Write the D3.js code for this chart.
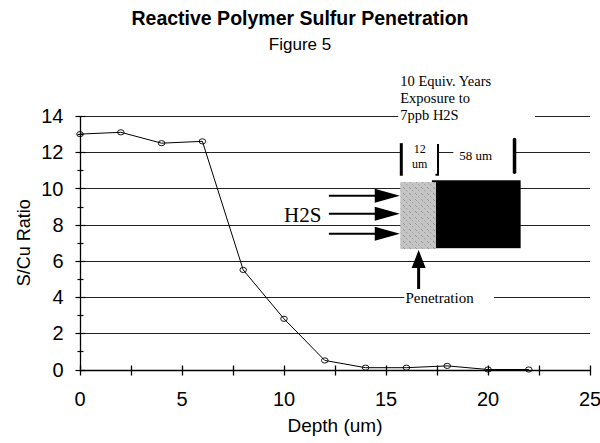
<!DOCTYPE html>
<html>
<head>
<meta charset="utf-8">
<script src="https://cdn.jsdelivr.net/npm/d3@7"></script>
<style>
  body { margin: 0; background: #fff; }
  svg { display: block; }
</style>
</head>
<body>
<div class="vis-holder"></div>
<script>
// data
var depth = [0, 2, 4, 6, 8, 10, 12, 14, 16, 18, 20, 22];
var ratio = [13, 13.1, 12.5, 12.6, 5.5, 2.8, 0.5, 0.1, 0.1, 0.2, 0, 0];
var xTickValues = [0, 5, 10, 15, 20, 25];
var yTickValues = [0, 2, 4, 6, 8, 10, 12, 14];
var arrowLevels = [9.6, 8.6, 7.5];

var mydata = depth.map(function(d, i) { return { depth: d, ratio: ratio[i] }; });

// svg width / height
var width = 600;
var height = 443;
var margin = { top: 116, bottom: 73.5, left: 80, right: 10 };

var sans = "'Liberation Sans', Arial, sans-serif";
var serif = "'Liberation Serif', 'Times New Roman', serif";

var svg = d3.select(".vis-holder")
            .append("svg")
            .attr("width", width)
            .attr("height", height);

var xScale = d3.scaleLinear()
               .domain([0, 25])
               .range([margin.left, width - margin.right]);

var yScale = d3.scaleLinear()
               .domain([0, 14])
               .range([height - margin.bottom, margin.top]);

// hatch pattern for the penetrated layer
var defs = svg.append("defs");
var pat = defs.append("pattern")
              .attr("id", "hatch")
              .attr("patternUnits", "userSpaceOnUse")
              .attr("width", 6)
              .attr("height", 6);
pat.append("rect").attr("width", 6).attr("height", 6).attr("fill", "#c4c4c4");
pat.append("path").attr("d", "M1,1 L3,3").attr("stroke", "#8a8a8a").attr("stroke-width", 0.8);
pat.append("path").attr("d", "M4,4 L5.5,5.5").attr("stroke", "#9a9a9a").attr("stroke-width", 0.8);

// horizontal gridlines
svg.append("g")
   .selectAll("line")
   .data(yTickValues.slice(1))
   .enter()
   .append("line")
   .attr("x1", xScale(0))
   .attr("x2", xScale(25))
   .attr("y1", function(d) { return Math.round(yScale(d)) + 0.5; })
   .attr("y2", function(d) { return Math.round(yScale(d)) + 0.5; })
   .attr("stroke", "#222")
   .attr("stroke-width", 1);

// data line
var line = d3.line()
             .x(function(d) { return xScale(d.depth); })
             .y(function(d) { return yScale(d.ratio); });

svg.append("path")
   .attr("d", line(mydata))
   .attr("fill", "none")
   .attr("stroke", "#000")
   .attr("stroke-width", 1);

svg.append("g")
   .selectAll("ellipse")
   .data(mydata)
   .enter()
   .append("ellipse")
   .attr("cx", function(d) { return xScale(d.depth); })
   .attr("cy", function(d) { return yScale(d.ratio); })
   .attr("rx", 3.3)
   .attr("ry", 2.6)
   .attr("fill", "none")
   .attr("stroke", "#000")
   .attr("stroke-width", 0.9);

// ---- annotation drawing (placed in data units) ----
var ann = svg.append("g");

// white boxes that break the gridlines behind labels
function whiteBox(x0, x1, y0, y1) {
  ann.append("rect")
     .attr("x", xScale(x0)).attr("y", yScale(y1))
     .attr("width", xScale(x1) - xScale(x0))
     .attr("height", yScale(y0) - yScale(y1))
     .attr("fill", "#fff");
}
whiteBox(15.6, 22.3, 13.2, 16.3);   // exposure text
whiteBox(15.75, 17.55, 10.8, 12.6); // 12 um
whiteBox(18.3, 21.3, 10.8, 12.6);   // 58 um
whiteBox(15.9, 20.3, 3.5, 4.5);     // penetration

// top text
var topText = ["10 Equiv. Years", "Exposure to", "7ppb H2S"];
ann.selectAll("text.top")
   .data(topText)
   .enter()
   .append("text")
   .attr("class", "top")
   .attr("x", xScale(15.7))
   .attr("y", function(d, i) { return yScale(15.65) + i * 17; })
   .attr("font-family", serif)
   .attr("font-size", 14.5)
   .text(function(d) { return d; });

// 12 um / 58 um markers
ann.append("line")
   .attr("x1", xScale(15.75)).attr("x2", xScale(15.75))
   .attr("y1", yScale(12.5)).attr("y2", yScale(10.7))
   .attr("stroke", "#000").attr("stroke-width", 3);
ann.append("path")
   .attr("d", "M" + xScale(17.55) + "," + yScale(12.45) + " L" + xScale(17.55) + "," + yScale(10.75) +
              " L" + (xScale(17.55) - 2.5) + "," + yScale(10.75))
   .attr("fill", "none").attr("stroke", "#000").attr("stroke-width", 2);
ann.append("line")
   .attr("x1", xScale(21.3)).attr("x2", xScale(21.3))
   .attr("y1", yScale(12.7)).attr("y2", yScale(10.9))
   .attr("stroke", "#000").attr("stroke-width", 3.5).attr("stroke-linecap", "round");

ann.append("text")
   .attr("x", xScale(16.65)).attr("y", yScale(11.95))
   .attr("text-anchor", "middle")
   .attr("font-family", serif).attr("font-size", 12)
   .text("12");
ann.append("text")
   .attr("x", xScale(16.65)).attr("y", yScale(11.15))
   .attr("text-anchor", "middle")
   .attr("font-family", serif).attr("font-size", 12)
   .text("um");
ann.append("text")
   .attr("x", xScale(19.4)).attr("y", yScale(11.55))
   .attr("text-anchor", "middle")
   .attr("font-family", serif).attr("font-size", 13)
   .text("58 um");

// film layers
ann.append("rect")
   .attr("x", xScale(17.25)).attr("y", yScale(10.45))
   .attr("width", xScale(21.6) - xScale(17.25))
   .attr("height", yScale(6.7) - yScale(10.45))
   .attr("fill", "#000");
ann.append("rect")
   .attr("x", xScale(15.7)).attr("y", yScale(10.35))
   .attr("width", xScale(17.45) - xScale(15.7))
   .attr("height", yScale(6.65) - yScale(10.35))
   .attr("fill", "url(#hatch)");

// H2S arrows
var arrows = ann.append("g");
arrowLevels.forEach(function(v) {
  var yy = yScale(v);
  arrows.append("line")
        .attr("x1", xScale(12.2)).attr("x2", xScale(14.6))
        .attr("y1", yy).attr("y2", yy)
        .attr("stroke", "#000").attr("stroke-width", 2);
  arrows.append("path")
        .attr("d", "M" + xScale(14.45) + "," + (yy - 7) + " L" + xScale(15.68) + "," + yy +
                   " L" + xScale(14.45) + "," + (yy + 7) + " Z")
        .attr("fill", "#000");
});
ann.append("text")
   .attr("x", xScale(10.0)).attr("y", yScale(8.15))
   .attr("font-family", serif).attr("font-size", 21)
   .text("H2S");

// penetration arrow
ann.append("line")
   .attr("x1", xScale(16.6)).attr("x2", xScale(16.6))
   .attr("y1", yScale(4.45)).attr("y2", yScale(6.0))
   .attr("stroke", "#000").attr("stroke-width", 3);
ann.append("path")
   .attr("d", "M" + (xScale(16.6) - 7) + "," + yScale(5.6) + " L" + xScale(16.6) + "," + yScale(6.6) +
              " L" + (xScale(16.6) + 7) + "," + yScale(5.6) + " Z")
   .attr("fill", "#000");
ann.append("text")
   .attr("x", xScale(15.95)).attr("y", yScale(3.65))
   .attr("font-family", serif).attr("font-size", 15)
   .text("Penetration");

// ---- axes ----
var x0 = Math.round(xScale(0)) + 0.5;
var y0 = Math.round(yScale(0)) + 0.5;

// x axis: ticks every 2.5 crossing the line, labels every 5
var xAxis = svg.append("g").attr("transform", "translate(0," + y0 + ")");
xAxis.append("line")
     .attr("x1", xScale(0)).attr("x2", xScale(25))
     .attr("stroke", "#000").attr("stroke-width", 1.3);
xAxis.selectAll("line.tick")
     .data(d3.range(0, 25.01, 2.5))
     .enter()
     .append("line")
     .attr("class", "tick")
     .attr("x1", function(d) { return Math.round(xScale(d)) + 0.5; })
     .attr("x2", function(d) { return Math.round(xScale(d)) + 0.5; })
     .attr("y1", -5).attr("y2", 5)
     .attr("stroke", "#000").attr("stroke-width", 1.3);
xAxis.selectAll("text")
     .data(xTickValues)
     .enter()
     .append("text")
     .attr("x", function(d) { return xScale(d); })
     .attr("y", 35)
     .attr("text-anchor", "middle")
     .attr("font-family", sans).attr("font-size", 20)
     .text(function(d) { return d; });

// y axis: major ticks every 2, minor every 1
var yAxis = svg.append("g").attr("transform", "translate(" + x0 + ",0)");
yAxis.append("line")
     .attr("y1", yScale(0)).attr("y2", yScale(14))
     .attr("stroke", "#000").attr("stroke-width", 1.3);
yAxis.selectAll("line.tick")
     .data(d3.range(0, 14.01, 1))
     .enter()
     .append("line")
     .attr("class", "tick")
     .attr("x1", function(d) { return d % 2 === 0 ? -5 : -3; })
     .attr("x2", function(d) { return d % 2 === 0 ? 5 : 3; })
     .attr("y1", function(d) { return Math.round(yScale(d)) + 0.5; })
     .attr("y2", function(d) { return Math.round(yScale(d)) + 0.5; })
     .attr("stroke", "#000").attr("stroke-width", 1.2);
yAxis.selectAll("text")
     .data(yTickValues)
     .enter()
     .append("text")
     .attr("x", -17)
     .attr("y", function(d) { return yScale(d); })
     .attr("dy", "0.36em")
     .attr("text-anchor", "end")
     .attr("font-family", sans).attr("font-size", 20)
     .text(function(d) { return d; });

// axis titles
svg.append("text")
   .attr("text-anchor", "middle")
   .attr("transform", "translate(" + xScale(12.5) + ",432)")
   .attr("font-family", sans).attr("font-size", 19)
   .text("Depth (um)");

svg.append("text")
   .attr("text-anchor", "middle")
   .attr("transform", "translate(30," + yScale(7) + ")rotate(-90)")
   .attr("font-family", sans).attr("font-size", 18)
   .text("S/Cu Ratio");

// chart title
svg.append("text")
   .attr("text-anchor", "middle")
   .attr("x", 300).attr("y", 25)
   .attr("font-family", sans).attr("font-size", 19.5).attr("font-weight", "bold")
   .text("Reactive Polymer Sulfur Penetration");

svg.append("text")
   .attr("text-anchor", "middle")
   .attr("x", 300).attr("y", 50)
   .attr("font-family", sans).attr("font-size", 17)
   .text("Figure 5");
</script>
</body>
</html>
